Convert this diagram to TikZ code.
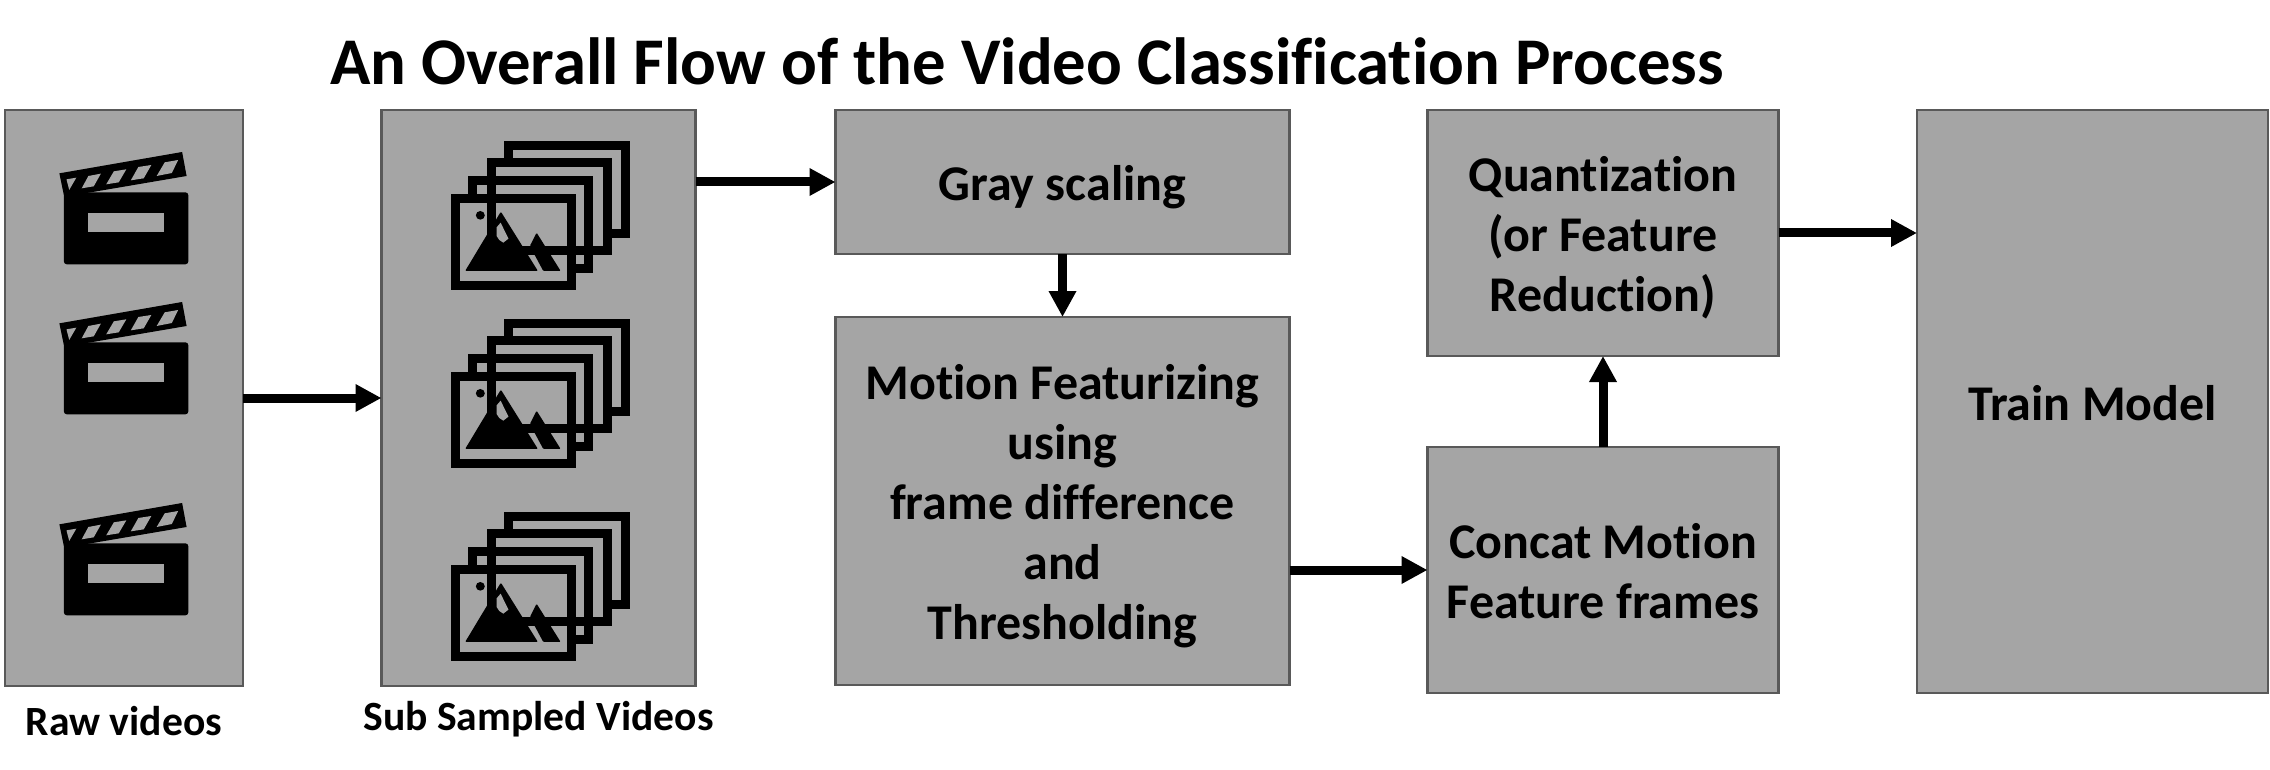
\documentclass[tikz,border=0pt]{standalone}
\usepackage{fontspec}
\setmainfont{Carlito}[Ligatures=NoCommon]
\usetikzlibrary{arrows.meta}
\definecolor{boxfill}{HTML}{A5A5A5}
\definecolor{boxline}{HTML}{595959}
\newcommand{\topstrut}{\rule{0pt}{49pt}}
\newcommand{\botstrut}{\rule[-12pt]{0pt}{0pt}}
\tikzset{
  stepbox/.style={draw=boxline,fill=boxfill,line width=2.5pt,outer sep=0pt,inner sep=0pt,align=center,
    font=\fontsize{50}{60}\selectfont\bfseries},
  emptybox/.style={draw=boxline,fill=boxfill,line width=2.5pt,outer sep=0pt,inner sep=0pt},
  flow/.style={line width=9pt,-{Triangle[length=26pt,width=26pt]}},
  caption/.style={font=\fontsize{41.6}{50}\selectfont\bfseries,inner sep=0pt},
  titletext/.style={font=\fontsize{66.7}{80}\selectfont\bfseries,inner sep=0pt},
  frameline/.style={draw=black,line width=9pt,miter limit=10}
}
\newcommand{\clapper}[1]{%
  \begin{scope}[x=.4464pt,y=-.3333pt,yshift=-#1pt]
    \fill[black,rounded corners=3pt] (143,277) -- (422,277) -- (422,493) -- (143,493) -- cycle;
    \fill[black] (133,220) -- (408,156) -- (418,228) -- (190,280) -- (143,285) -- cycle;
    \fill[boxfill] (198,338) rectangle (367,395);
    \fill[boxfill] (149,238) -- (171,233) -- (155,270) -- cycle;
    \fill[boxfill] (183,265) -- (198,228) -- (226,221) -- (210,259) -- cycle;
    \fill[boxfill] (238,253) -- (255,214) -- (283,208) -- (266,247) -- cycle;
    \fill[boxfill] (293,241) -- (310,201) -- (339,195) -- (322,235) -- cycle;
    \fill[boxfill] (351,228) -- (369,187) -- (399,180) -- (385,219) -- cycle;
  \end{scope}}
\newcommand{\framestack}[1]{%
  \begin{scope}[x=.4464pt,y=-.3333pt,yshift=-#1pt]
    \draw[frameline] (1140,176) -- (1140,137) -- (1401,137) -- (1401,400) -- (1372,400);
    \draw[frameline] (1101,420) -- (1101,189) -- (1362,189) -- (1362,452) -- (1165,452);
    \draw[frameline] (1059,282) -- (1059,242) -- (1319,242) -- (1319,505) -- (1290,505);
    \draw[frameline] (1021,295) rectangle (1280,557);
    \fill[black,rounded corners=1pt] (1122,335) -- (1042,513) -- (1205,513) -- cycle;
    \fill[boxfill] (1121.5,368) -- (1139,416) -- (1127.5,428) -- (1118.5,420) -- (1112.5,408) -- (1112.5,382) -- cycle;
    \fill[black,rounded corners=1pt] (1202,398) -- (1256,513) -- (1217,513) -- (1187,438) -- cycle;
    \fill[black] (1076,346) ellipse [x radius=10,y radius=13];
  \end{scope}}
\begin{document}
\begin{tikzpicture}[x=1pt,y=-1pt]
  \useasboundingbox (0,0) rectangle (2270,770);
  \fill[white] (0,0) rectangle (2270,770);
  \node[titletext] (title) at (1027,61) {An Overall Flow of the Video Classification Process};
  \node[emptybox,minimum width=238pt,minimum height=576pt] (raw) at (124,398) {};
  \node[emptybox,minimum width=314pt,minimum height=576pt] (sub) at (538.5,398) {};
  \node[stepbox,minimum width=454pt,minimum height=144pt] (gray) at (1062.5,182) {\topstrut Gray scaling\botstrut};
  \node[stepbox,minimum width=454pt,minimum height=368pt] (motion) at (1062.5,501) {\topstrut Motion Featurizing\\using\\frame difference\\and\\Thresholding\botstrut};
  \node[stepbox,minimum width=351pt,minimum height=246pt] (quant) at (1603,233) {\topstrut Quantization\\(or Feature\\Reduction)\botstrut};
  \node[stepbox,minimum width=351pt,minimum height=246pt] (concat) at (1603,570) {\topstrut Concat Motion\\Feature frames\botstrut};
  \node[stepbox,minimum width=351pt,minimum height=583pt] (train) at (2092.5,401.5) {\topstrut Train Model\botstrut};
  \node[caption] (rawcap) at (124,721) {Raw videos};
  \node[caption] (subcap) at (538.5,719) {Sub Sampled Videos};
  \clapper{100}
  \clapper{250}
  \clapper{451}
  \framestack{100}
  \framestack{278}
  \framestack{471}
  \draw[flow] (raw.east) -- (sub.west);
  \draw[flow] (sub.east |- gray.west) -- (gray.west);
  \draw[flow] (gray.south) -- (motion.north);
  \draw[flow] (motion.east |- concat.west) -- (concat.west);
  \draw[flow] (concat.north) -- (quant.south);
  \draw[flow] (quant.east) -- (train.west |- quant.east);
\end{tikzpicture}
\end{document}
